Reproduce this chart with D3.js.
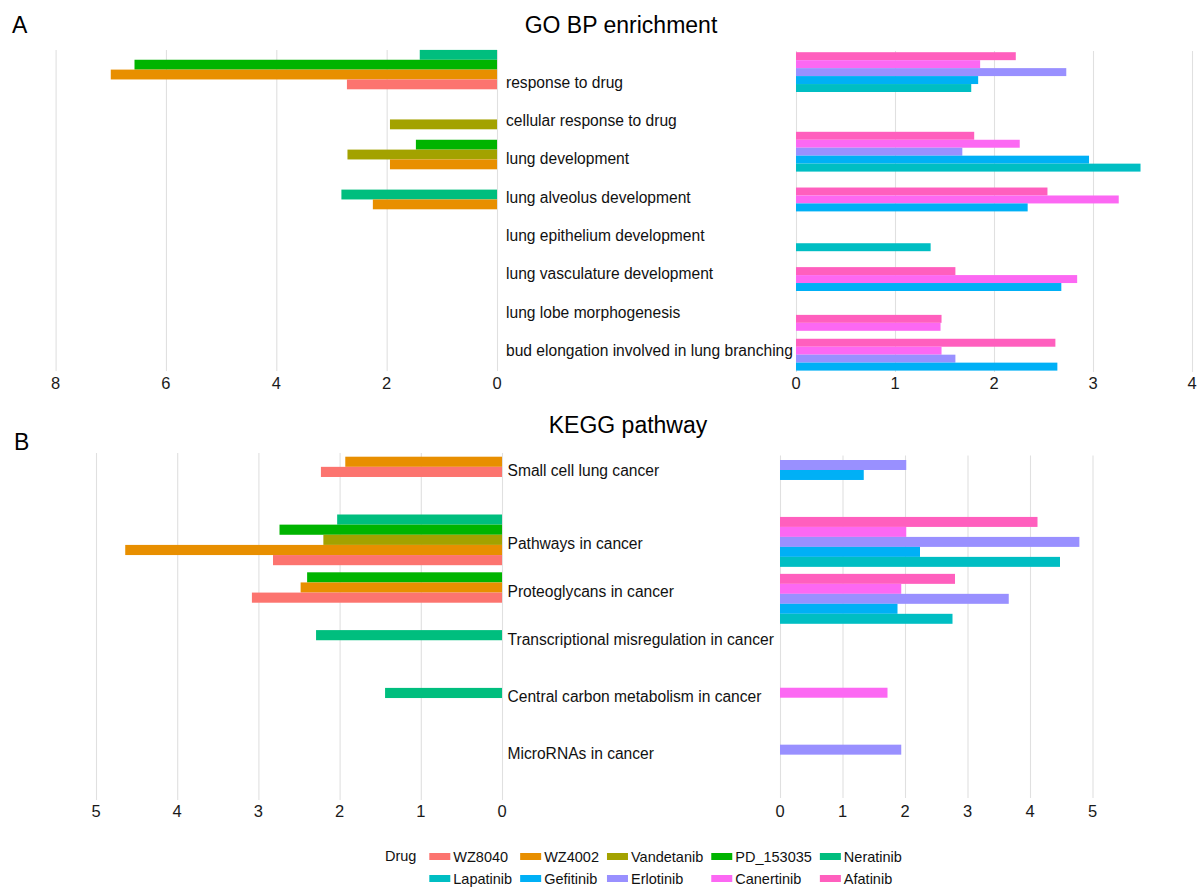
<!DOCTYPE html>
<html>
<head>
<meta charset="utf-8">
<script src="https://cdn.jsdelivr.net/npm/d3@7"></script>
<style>
  html, body { margin: 0; padding: 0; background: #fff; }
  svg { display: block; font-family: "Liberation Sans", Arial, Helvetica, sans-serif; }
</style>
</head>
<body>
<svg id="chart" width="1198" height="887"></svg>
<script>
// ---- categories ----
const goTerms = [
  "response to drug",
  "cellular response to drug",
  "lung development",
  "lung alveolus development",
  "lung epithelium development",
  "lung vasculature development",
  "lung lobe morphogenesis",
  "bud elongation involved in lung branching"
];
const keggTerms = [
  "Small cell lung cancer",
  "Pathways in cancer",
  "Proteoglycans in cancer",
  "Transcriptional misregulation in cancer",
  "Central carbon metabolism in cancer",
  "MicroRNAs in cancer"
];

// drugs drawn on each side, listed top to bottom within a group
const leftDrugs = ["Neratinib", "PD_153035", "Vandetanib", "WZ4002", "WZ8040"];
const rightDrugs = ["Afatinib", "Canertinib", "Erlotinib", "Gefitinib", "Lapatinib"];

// legend order and fill colours
const legendDrugs = ["WZ8040", "WZ4002", "Vandetanib", "PD_153035", "Neratinib",
                     "Lapatinib", "Gefitinib", "Erlotinib", "Canertinib", "Afatinib"];
const drugColors = ["#FC746F", "#E88F00", "#A3A200", "#00B400", "#00BE7E",
                    "#00BEC3", "#00B0F6", "#9990FF", "#FC68F3", "#FF5FBE"];

// axis ticks
const goLeftTicks = [0, 2, 4, 6, 8];
const goRightTicks = [0, 1, 2, 3, 4];
const keggTicks = [0, 1, 2, 3, 4, 5];

// ---- GO BP enrichment scores (one value per GO term, null = not enriched) ----
const goWZ8040     = [2.72, null, null, null, null, null, null, null];
const goWZ4002     = [7.00, null, 1.94, 2.25, null, null, null, null];
const goVandetanib = [null, 1.94, 2.71, null, null, null, null, null];
const goPD_153035  = [6.57, null, 1.47, null, null, null, null, null];
const goNeratinib  = [1.40, null, null, 2.82, null, null, null, null];
const goLapatinib  = [1.77, null, 3.48, null, 1.36, null, null, null];
const goGefitinib  = [1.84, null, 2.96, 2.34, null, 2.68, null, 2.64];
const goErlotinib  = [2.73, null, 1.68, null, null, null, null, 1.61];
const goCanertinib = [1.86, null, 2.26, 3.26, null, 2.84, 1.46, 1.47];
const goAfatinib   = [2.22, null, 1.80, 2.54, null, 1.61, 1.47, 2.62];

// ---- KEGG pathway enrichment scores ----
const keggWZ8040     = [2.23, 2.82, 3.08, null, null, null];
const keggWZ4002     = [1.93, 4.64, 2.48, null, null, null];
const keggVandetanib = [null, 2.20, null, null, null, null];
const keggPD_153035  = [null, 2.74, 2.40, null, null, null];
const keggNeratinib  = [null, 2.03, null, 2.29, 1.44, null];
const keggLapatinib  = [null, 4.48, 2.76, null, null, null];
const keggGefitinib  = [1.34, 2.24, 1.88, null, null, null];
const keggErlotinib  = [2.02, 4.79, 3.66, null, null, 1.94];
const keggCanertinib = [null, 2.02, 1.94, null, 1.72, null];
const keggAfatinib   = [null, 4.12, 2.80, null, null, null];

const goValues = new Map([
  ["WZ8040", goWZ8040], ["WZ4002", goWZ4002], ["Vandetanib", goVandetanib],
  ["PD_153035", goPD_153035], ["Neratinib", goNeratinib], ["Lapatinib", goLapatinib],
  ["Gefitinib", goGefitinib], ["Erlotinib", goErlotinib], ["Canertinib", goCanertinib],
  ["Afatinib", goAfatinib]
]);
const keggValues = new Map([
  ["WZ8040", keggWZ8040], ["WZ4002", keggWZ4002], ["Vandetanib", keggVandetanib],
  ["PD_153035", keggPD_153035], ["Neratinib", keggNeratinib], ["Lapatinib", keggLapatinib],
  ["Gefitinib", keggGefitinib], ["Erlotinib", keggErlotinib], ["Canertinib", keggCanertinib],
  ["Afatinib", keggAfatinib]
]);

const color = d3.scaleOrdinal().domain(legendDrugs).range(drugColors);
const svg = d3.select("#chart");
const FONT_TICK = 16.5, FONT_LABEL = 15.6, FONT_TITLE = 23;

// One half-panel: gridlines, tick labels and dodged horizontal bars.
function drawPanel(cfg) {
  const g = svg.append("g");
  const x = cfg.x;

  // vertical gridlines
  g.append("g")
    .attr("transform", `translate(0,${cfg.gridBottom})`)
    .call(d3.axisBottom(x).tickValues(cfg.ticks).tickSize(-(cfg.gridBottom - cfg.gridTop)).tickFormat(""))
    .call(a => a.select(".domain").remove())
    .call(a => a.selectAll("line").attr("stroke", "#e0e0e0").attr("stroke-width", 1.1));

  // tick labels
  g.append("g").selectAll("text").data(cfg.ticks).join("text")
    .attr("x", d => x(d))
    .attr("y", cfg.tickBaseline)
    .attr("text-anchor", "middle")
    .attr("font-size", FONT_TICK)
    .attr("fill", "#1a1a1a")
    .text(d => d);

  // categories as bands; bars inside a band are stacked from its top or bottom edge
  const band = d3.scaleBand().domain(cfg.terms).range(cfg.bandRange).paddingInner(0).paddingOuter(0);
  const groups = cfg.terms.map((term, ti) => ({
    term,
    items: cfg.drugs
      .filter(d => cfg.values.get(d)[ti] != null)
      .map(d => ({ drug: d, value: cfg.values.get(d)[ti] }))
  }));
  const maxN = d3.max(groups, gr => gr.items.length);
  const barH = band.step() * cfg.dodge / maxN;

  const centers = new Map();
  const bars = [];
  groups.forEach(gr => {
    const n = gr.items.length;
    if (!n) return;
    const top = cfg.align === "top"
      ? band(gr.term)
      : band(gr.term) + band.bandwidth() - n * barH;
    gr.items.forEach((it, i) => bars.push({ ...it, y: top + i * barH }));
    centers.set(gr.term, top + n * barH / 2);
  });

  g.append("g").selectAll("rect").data(bars).join("rect")
    .attr("x", d => Math.min(x(0), x(d.value)))
    .attr("width", d => Math.abs(x(d.value) - x(0)))
    .attr("y", d => d.y)
    .attr("height", barH)
    .attr("fill", d => color(d.drug));

  return centers;
}

// ---------------- A: GO BP enrichment ----------------
svg.append("text").attr("x", 12).attr("y", 33).attr("font-size", 23).attr("fill", "#000").text("A");
svg.append("text").attr("x", 621).attr("y", 33).attr("text-anchor", "middle")
  .attr("font-size", FONT_TITLE).attr("fill", "#000").text("GO BP enrichment");

drawPanel({
  terms: goTerms, drugs: leftDrugs, values: goValues,
  x: d3.scaleLinear().domain([0, 8]).range([497, 55.6]),
  ticks: goLeftTicks, gridTop: 50, gridBottom: 371, tickBaseline: 389,
  bandRange: [49.3, 369.3], align: "bottom", dodge: 0.985
});
drawPanel({
  terms: goTerms, drugs: rightDrugs, values: goValues,
  x: d3.scaleLinear().domain([0, 4]).range([796, 1192]),
  ticks: goRightTicks, gridTop: 51, gridBottom: 372, tickBaseline: 389,
  bandRange: [52.2, 370.6], align: "bottom", dodge: 1.0
});

const goLabelY = d3.scalePoint().domain(goTerms).range([87.5, 356]);
svg.append("g").selectAll("text").data(goTerms).join("text")
  .attr("x", 506)
  .attr("y", d => goLabelY(d))
  .attr("font-size", FONT_LABEL)
  .attr("fill", "#111")
  .text(d => d);

// ---------------- B: KEGG pathway ----------------
svg.append("text").attr("x", 14).attr("y", 450).attr("font-size", 23).attr("fill", "#000").text("B");
svg.append("text").attr("x", 628).attr("y", 433).attr("text-anchor", "middle")
  .attr("font-size", FONT_TITLE).attr("fill", "#000").text("KEGG pathway");

const keggLeftCenters = drawPanel({
  terms: keggTerms, drugs: leftDrugs, values: keggValues,
  x: d3.scaleLinear().domain([0, 5]).range([502, 96]),
  ticks: keggTicks, gridTop: 453, gridBottom: 800, tickBaseline: 816.5,
  bandRange: [456.7, 803.5], align: "top", dodge: 0.877
});
const keggRightCenters = drawPanel({
  terms: keggTerms, drugs: rightDrugs, values: keggValues,
  x: d3.scaleLinear().domain([0, 5]).range([780, 1092.5]),
  ticks: keggTicks, gridTop: 455.5, gridBottom: 798, tickBaseline: 816.5,
  bandRange: [460, 801.6], align: "top", dodge: 0.877
});

// each pathway label sits beside its bar group
svg.append("g").selectAll("text").data(keggTerms).join("text")
  .attr("x", 507.5)
  .attr("y", d => (keggLeftCenters.get(d) ?? keggRightCenters.get(d)) + 9.5)
  .attr("font-size", FONT_LABEL)
  .attr("fill", "#111")
  .text(d => d);

// ---------------- legend ----------------
const legend = svg.append("g").attr("font-size", 14.5).attr("fill", "#111");
legend.append("text").attr("x", 385).attr("y", 861).text("Drug");

const nCols = 5, swW = 21, swH = 7, textGap = 24, colGap = 8;
const rowY = [856.5, 878.5];
// measure label widths to size each column
const probe = legend.append("text").attr("visibility", "hidden");
const widths = legendDrugs.map(d => { probe.text(d); return probe.node().getComputedTextLength(); });
probe.remove();
const colX = [];
let cx = 429.3;
for (let c = 0; c < nCols; c++) {
  colX.push(cx);
  const w = Math.max(widths[c], widths[c + nCols]);
  cx += textGap + w + colGap;
}
legendDrugs.forEach((d, i) => {
  const c = i % nCols, r = Math.floor(i / nCols);
  legend.append("rect")
    .attr("x", colX[c]).attr("y", rowY[r] - swH / 2)
    .attr("width", swW).attr("height", swH)
    .attr("fill", color(d));
  legend.append("text")
    .attr("x", colX[c] + textGap).attr("y", rowY[r] + 5)
    .text(d);
});
</script>
</body>
</html>
